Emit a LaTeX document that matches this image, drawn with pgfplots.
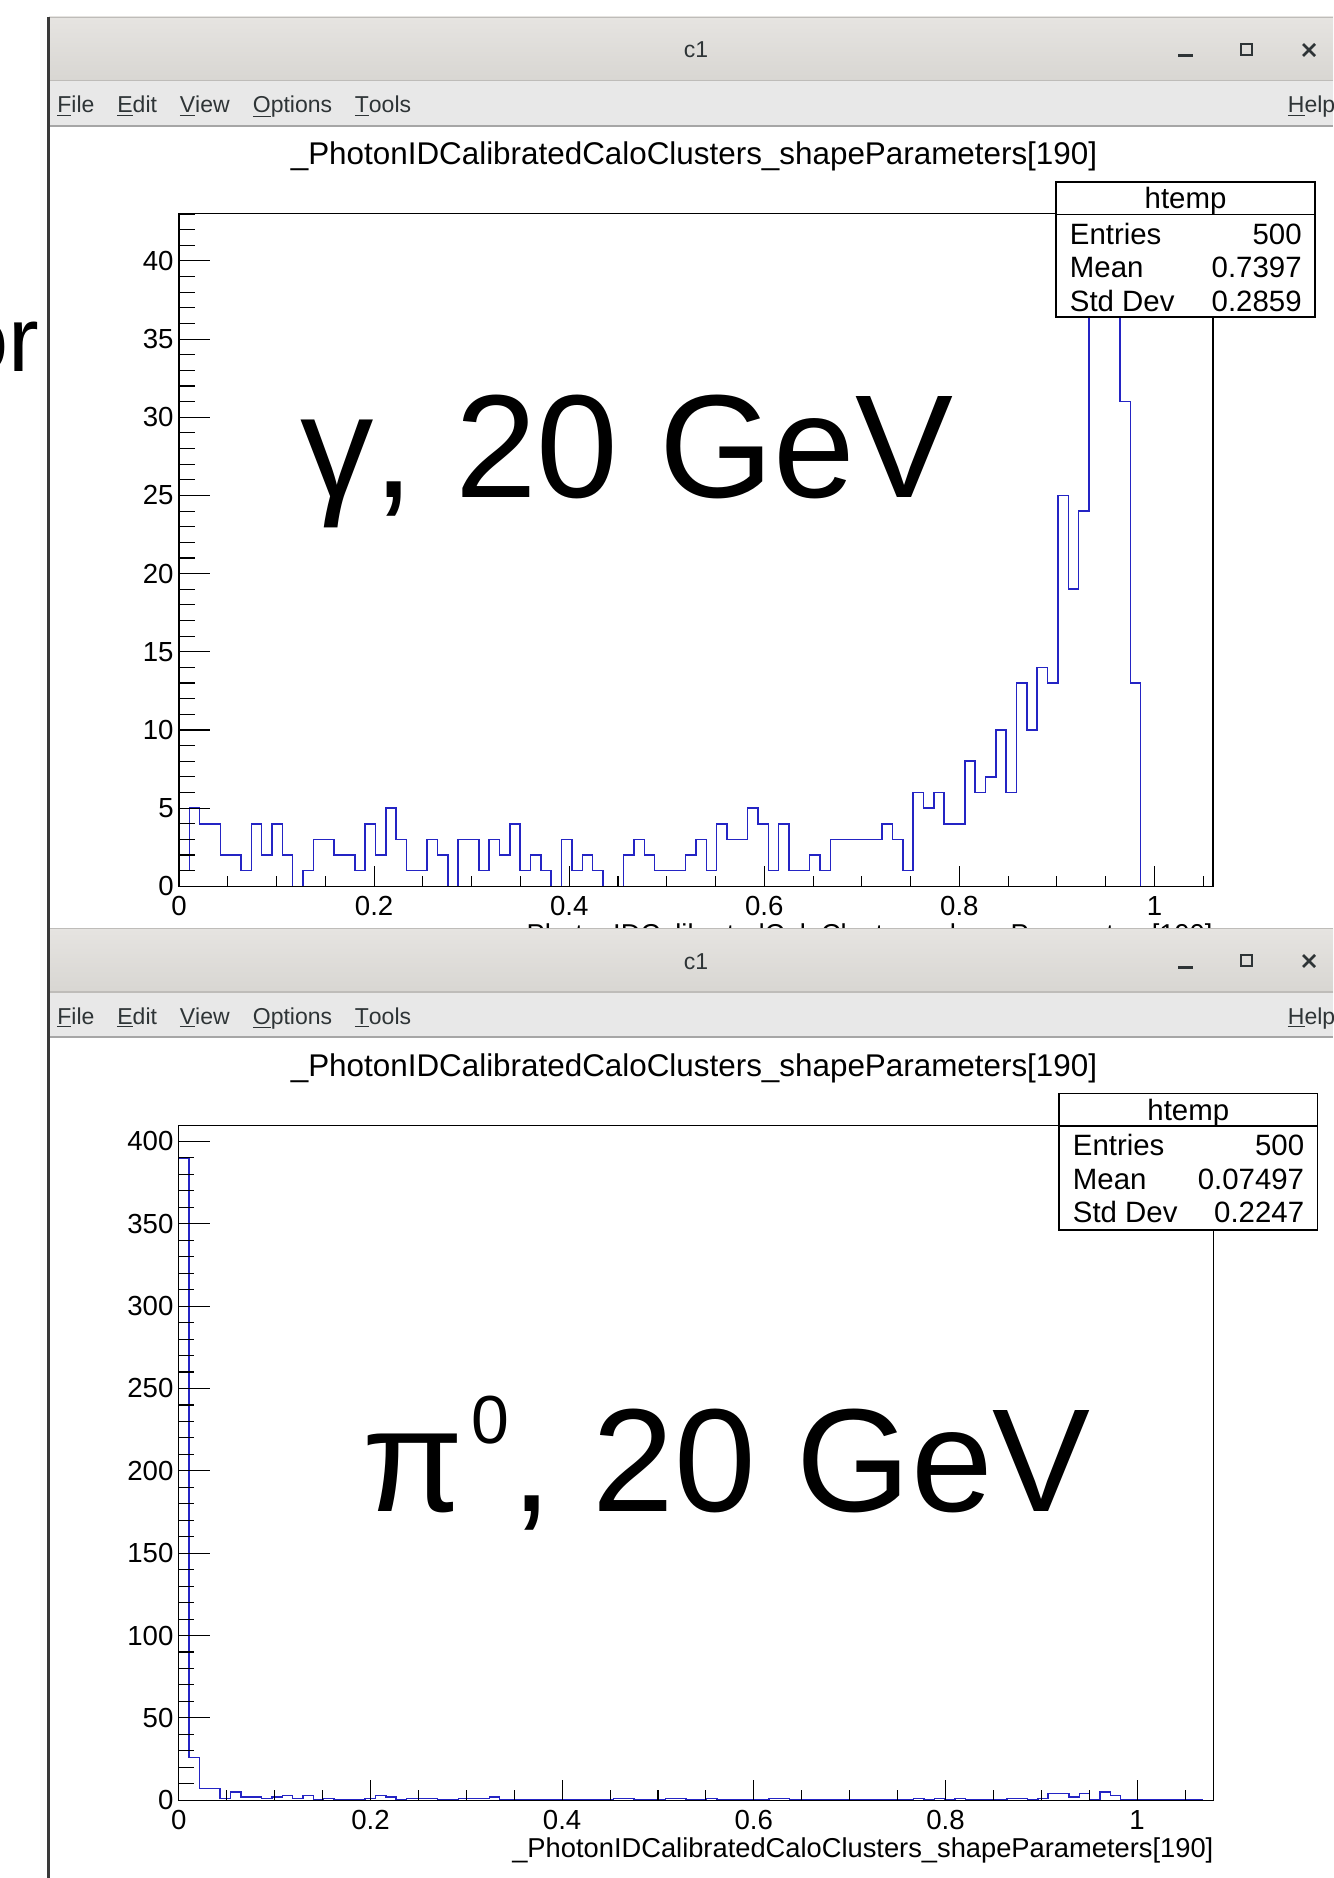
\documentclass[border=0pt]{standalone}
\usepackage{pgfplots}
\pgfplotsset{compat=1.18}
\usepackage{pgfplotstable}
\usepackage{fontspec}
\setmainfont{Liberation Sans}

\definecolor{histblue}{RGB}{36,36,196}
\definecolor{titlebar}{RGB}{216,214,210}
\definecolor{titlebartop}{RGB}{230,228,225}
\definecolor{menubar}{RGB}{232,232,232}
\definecolor{chrometext}{RGB}{46,52,54}
\definecolor{wmborder}{RGB}{58,58,58}
\definecolor{sepline}{RGB}{190,188,185}

% photon sample: 100 bins on [0,1.06]
\pgfplotstableread{
bin n
0 1
1 5
2 4
3 4
4 2
5 2
6 1
7 4
8 2
9 4
10 2
11 0
12 1
13 3
14 3
15 2
16 2
17 1
18 4
19 2
20 5
21 3
22 1
23 1
24 3
25 2
26 0
27 3
28 3
29 1
30 3
31 2
32 4
33 1
34 2
35 1
36 0
37 3
38 1
39 2
40 1
41 0
42 0
43 2
44 3
45 2
46 1
47 1
48 1
49 2
50 3
51 1
52 4
53 3
54 3
55 5
56 4
57 1
58 4
59 1
60 1
61 2
62 1
63 3
64 3
65 3
66 3
67 3
68 4
69 3
70 1
71 6
72 5
73 6
74 4
75 4
76 8
77 6
78 7
79 10
80 6
81 13
82 10
83 14
84 13
85 25
86 19
87 24
88 37
89 41
90 39
91 31
92 13
93 0
94 0
95 0
96 0
97 0
98 0
99 0
}\gammahist

% neutral pion sample: 100 bins on [0,1.08]
\pgfplotstableread{
bin n
0 390
1 26
2 7
3 7
4 1
5 5
6 2
7 2
8 1
9 2
10 3
11 1
12 3
13 0
14 1
15 0
16 0
17 0
18 1
19 3
20 2
21 0
22 1
23 1
24 1
25 0
26 0
27 1
28 1
29 1
30 2
31 0
32 0
33 0
34 0
35 0
36 0
37 0
38 0
39 0
40 0
41 0
42 1
43 1
44 0
45 0
46 0
47 1
48 1
49 0
50 0
51 1
52 0
53 0
54 0
55 0
56 0
57 1
58 1
59 0
60 0
61 0
62 0
63 0
64 0
65 0
66 0
67 0
68 0
69 0
70 0
71 1
72 0
73 1
74 0
75 1
76 0
77 0
78 0
79 0
80 1
81 1
82 0
83 1
84 4
85 4
86 2
87 4
88 0
89 5
90 3
91 0
92 0
93 0
94 0
95 0
96 0
97 0
98 0
99 0
}\pionhist

\pgfplotsset{
  rootframe/.style={
    scale only axis, anchor=south west,
    axis on top, tick align=inside, tick pos=left,
    axis line style={line width=0.65pt, black},
    every tick/.style={black, line width=0.55pt},
    major tick length=10pt, minor tick length=5pt,
    /pgf/number format/assume math mode=true,
    tick label style={font=\fontsize{13.8}{14}\selectfont},
    yticklabel style={anchor=east, inner sep=0pt, xshift=-2.5pt},
    xticklabel style={anchor=north, inner sep=0pt, yshift=-5pt},
    xlabel style={at={(axis description cs:1,0)}, anchor=base east,
      inner sep=0pt, yshift=-28.4pt, font=\fontsize{13.65}{14}\selectfont},
    xlabel={\_PhotonIDCalibratedCaloClusters\_shapeParameters[190]},
    xmin=0, ymin=0,
    xtick={0,0.2,0.4,0.6,0.8,1},
    minor xtick={0.05,0.1,0.15,0.25,0.3,0.35,0.45,0.5,0.55,0.65,0.7,0.75,0.85,0.9,0.95,1.05},
  },
  % longer y ticks laid over the frame, as ROOT draws them
  rootyticks/.style={
    scale only axis, anchor=south west,
    hide x axis, axis line style={draw=none},
    tick align=inside, ytick pos=left,
    every tick/.style={black, line width=0.55pt},
    major tick length=15.5pt, minor tick length=7.75pt,
    yticklabels={}, xmin=0, ymin=0,
  },
}

\newcommand\menufont{\fontsize{11.5}{12}\selectfont}
\newcommand\statsfont{\fontsize{14.7}{15}\selectfont}
\newcommand\bigfont{\fontsize{73.4}{75}\selectfont}

% window chrome of one ROOT canvas, top edge at #1 (in px units)
\newcommand\canvaswindow[1]{%
  \shade[top color=titlebartop, bottom color=titlebar] (49,#1) rectangle (1333,#1+64);
  \draw[sepline, line width=0.5pt] (49,#1+0.5) -- (1333,#1+0.5);
  \draw[sepline, line width=0.6pt] (49,#1+64) -- (1333,#1+64);
  \fill[menubar] (49,#1+64.5) rectangle (1333,#1+109);
  \draw[black!35, line width=0.6pt] (49,#1+109) -- (1333,#1+109);
  \fill[wmborder] (47,#1) rectangle (50,1878);
  \node[anchor=base, inner sep=0pt, text=chrometext, font=\fontsize{11.5}{12}\selectfont] at (696,#1+41) {c1};
  \draw[chrometext, line width=1.5pt] (1178,#1+39) -- (1193,#1+39);
  \draw[chrometext, line width=1.3pt] (1241,#1+27) rectangle (1252,#1+38);
  \draw[chrometext, line width=1.3pt] (1303,#1+27) -- (1315,#1+39) (1303,#1+39) -- (1315,#1+27);
  \begin{scope}[every node/.style={anchor=base west, inner sep=0pt, text=chrometext, font=\menufont}]
    \node at (57,#1+96) {\underline{F}ile};
    \node at (117,#1+96) {\underline{E}dit};
    \node at (179.5,#1+96) {\underline{V}iew};
    \node at (252.5,#1+96) {\underline{O}ptions};
    \node at (354.5,#1+96) {\underline{T}ools};
    \node at (1287.5,#1+96) {\underline{H}elp};
  \end{scope}
  \node[anchor=base, inner sep=0pt, font=\fontsize{15.7}{16}\selectfont] at (694,#1+148)
    {\_PhotonIDCalibratedCaloClusters\_shapeParameters[190]};
}

% statistics box: left, top, right, bottom, entries, mean, std dev
\newcommand\statsbox[7]{%
  \draw[fill=white, line width=0.65pt] (#1,#2) rectangle (#3,#4);
  \draw[line width=0.65pt] (#1,#2+32.5) -- (#3,#2+32.5);
  \node[anchor=base, inner sep=0pt, font=\statsfont] at ({(#1+#3)/2},#2+26.5) {htemp};
  \node[anchor=base west, inner sep=0pt, font=\statsfont] at (#1+13.5,#2+62) {Entries};
  \node[anchor=base west, inner sep=0pt, font=\statsfont] at (#1+13.5,#2+95.6) {Mean};
  \node[anchor=base west, inner sep=0pt, font=\statsfont] at (#1+13.5,#2+129) {Std Dev};
  \node[anchor=base east, inner sep=0pt, font=\statsfont] at (#3-13,#2+62) {#5};
  \node[anchor=base east, inner sep=0pt, font=\statsfont] at (#3-13,#2+95.6) {#6};
  \node[anchor=base east, inner sep=0pt, font=\statsfont] at (#3-13,#2+129) {#7};
}

\begin{document}
\begin{tikzpicture}
\useasboundingbox (0,0) rectangle (666.5pt,-939pt);
\clip (0,0) rectangle (666.5pt,-939pt);
\fill[white] (0,0) rectangle (666.5pt,-939pt);

% ---------------- upper canvas: photons ----------------
\begin{scope}[x=0.5pt, y=-0.5pt]
  \node[anchor=base east, inner sep=0pt, font=\fontsize{46}{46}\selectfont] at (40,371) {or};
  \canvaswindow{17}
\end{scope}

\begin{axis}[rootframe,
  at={(89.5pt,-443.15pt)}, width=517pt, height=336.55pt,
  xmax=1.06, ymax=43.05,
  ytick={0,5,...,40}, minor ytick={0,1,...,43}]
  \addplot[const plot, histblue, line width=0.75pt]
    table[x expr=\thisrow{bin}*0.0106, y=n] {\gammahist};
\end{axis}
\begin{axis}[rootyticks,
  at={(89.5pt,-443.15pt)}, width=517pt, height=336.55pt,
  xmax=1.06, ymax=43.05,
  ytick={0,5,...,40}, minor ytick={0,1,...,43}]
\end{axis}

\begin{scope}[x=0.5pt, y=-0.5pt]
  \statsbox{1056}{182}{1315}{317}{500}{0.7397}{0.2859}
  \node[anchor=base west, inner sep=0pt, font=\bigfont] at (300,497) {γ, 20 GeV};
\end{scope}

% ---------------- lower canvas: neutral pions ----------------
\begin{scope}[x=0.5pt, y=-0.5pt]
  \fill[white] (47,928) rectangle (1333,1878);
  \canvaswindow{928}
\end{scope}

\begin{axis}[rootframe,
  at={(89.4pt,-900.1pt)}, width=517.5pt, height=337.2pt,
  xmax=1.08, ymax=409.5,
  ytick={0,50,...,400}, minor ytick={0,10,...,400}]
  \addplot[const plot, histblue, line width=0.75pt]
    table[x expr=\thisrow{bin}*0.0108, y=n] {\pionhist};
\end{axis}
\begin{axis}[rootyticks,
  at={(89.4pt,-900.1pt)}, width=517.5pt, height=337.2pt,
  xmax=1.08, ymax=409.5,
  ytick={0,50,...,400}, minor ytick={0,10,...,400}]
\end{axis}

\begin{scope}[x=0.5pt, y=-0.5pt]
  \statsbox{1059}{1093.5}{1317.5}{1230}{500}{0.07497}{0.2247}
  \node[anchor=base west, inner sep=0pt, font=\bigfont] at (362,1511) {π};
  \node[anchor=base west, inner sep=0pt, font=\fontsize{34}{34}\selectfont] at (471,1443) {0};
  \node[anchor=base west, inner sep=0pt, font=\bigfont] at (511,1511) {, 20 GeV};
\end{scope}
\end{tikzpicture}
\end{document}
